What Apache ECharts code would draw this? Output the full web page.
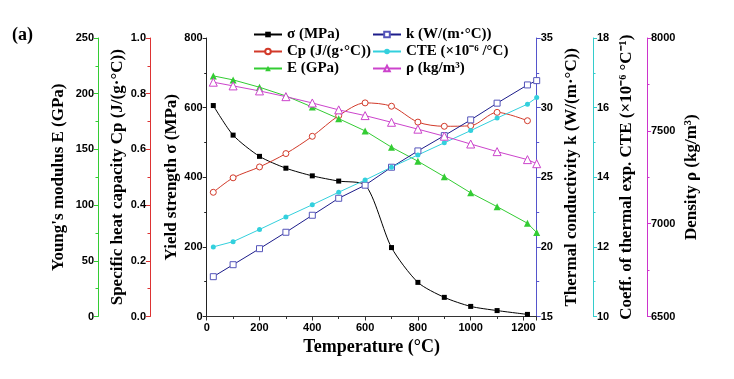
<!DOCTYPE html>
<html>
<head>
<meta charset="utf-8">
<script src="https://cdn.jsdelivr.net/npm/echarts@6/dist/echarts.min.js"></script>
<style>
html,body{margin:0;padding:0;background:#fff;}
#c{width:734px;height:379px;}
</style>
</head>
<body>
<div id="c"></div>
<script>
// Temperatures (°C)
var temps = [25, 100, 200, 300, 400, 500, 600, 700, 800, 900, 1000, 1100, 1215, 1250];
// Yield strength σ (MPa) - 13 points
var sigma = [606, 521, 460, 426, 404, 389, 378, 198, 98, 55, 29, 17, 6];
// Specific heat Cp (J/(g·°C)) - 13 points
var cp = [0.446, 0.498, 0.537, 0.585, 0.647, 0.721, 0.767, 0.755, 0.698, 0.683, 0.685, 0.733, 0.703];
// Young's modulus E (GPa)
var youngE = [216, 212.4, 205.8, 198, 188, 177.6, 166.6, 152, 139.4, 125.5, 111, 98.6, 83.7, 75.3];
// Thermal conductivity k (W/(m·°C))
var kCond = [17.86, 18.72, 19.87, 21.05, 22.27, 23.49, 24.43, 25.72, 26.89, 27.99, 29.12, 30.32, 31.63, 31.94];
// CTE (×10^-6 /°C)
var cte = [12.0, 12.15, 12.5, 12.86, 13.21, 13.57, 13.92, 14.29, 14.64, 14.99, 15.34, 15.70, 16.10, 16.29];
// Density ρ (kg/m³)
var rho = [7762, 7742, 7715, 7684, 7650, 7613, 7582, 7546, 7509, 7471, 7429, 7388, 7345, 7323];

var xTicks = {min: 0, max: 1250, interval: 200};

function pairs(vals) {
  return vals.map(function (v, i) { return [temps[i], v]; });
}

var serif = '"Liberation Serif", "Times New Roman", serif';
var sans = '"Liberation Sans", Arial, sans-serif';

function yAx(o) {
  return {
    type: 'value',
    position: o.pos,
    offset: o.offset,
    min: o.min, max: o.max, interval: o.interval,
    name: o.name,
    nameLocation: 'middle',
    nameRotate: 90,
    nameGap: o.gap,
    nameTextStyle: {fontFamily: serif, fontWeight: 'bold', fontSize: 17, color: '#000'},
    axisLine: {show: true, lineStyle: {color: o.color, width: 1}},
    axisTick: {show: true, inside: false, length: 4, lineStyle: {color: o.color}},
    minorTick: {show: true, splitNumber: 2, length: 2.5, lineStyle: {color: o.color}},
    axisLabel: {fontFamily: sans, fontWeight: 'bold', fontSize: 11, color: '#000', margin: 4,
      formatter: o.fmt || function (v) { return String(v); }},
    splitLine: {show: false}
  };
}

var chart = echarts.init(document.getElementById('c'), null, {renderer: 'canvas'});

var legendText = {fontFamily: serif, fontWeight: 'bold', fontSize: 15, color: '#000'};

var option = {
  backgroundColor: '#fff',
  animation: false,
  graphic: [{
    type: 'text', left: 12, top: 26,
    style: {text: '(a)', font: 'bold 18px ' + serif, fill: '#000'}
  }],
  legend: [{
    orient: 'vertical', left: 248, top: 22, itemWidth: 28, itemHeight: 7, itemGap: 2,
    textStyle: legendText,
    data: ['σ (MPa)', 'Cp (J/(g·°C))', 'E (GPa)']
  }, {
    orient: 'vertical', left: 367, top: 22, itemWidth: 28, itemHeight: 7, itemGap: 2,
    textStyle: legendText,
    data: ['k (W/(m·°C))', 'CTE (×10⁻⁶ /°C)', 'ρ (kg/m³)']
  }],
  grid: {left: 206.7, right: 197.3, top: 38, bottom: 62.5, containLabel: false},
  xAxis: {
    type: 'value', min: xTicks.min, max: xTicks.max, interval: xTicks.interval,
    name: 'Temperature (°C)', nameLocation: 'middle', nameGap: 21,
    nameTextStyle: {fontFamily: serif, fontWeight: 'bold', fontSize: 18, color: '#000'},
    axisLine: {show: true, onZero: false, lineStyle: {color: '#333', width: 1}},
    axisTick: {show: true, inside: false, length: 4, lineStyle: {color: '#333'}},
    minorTick: {show: true, splitNumber: 2, length: 2.5, lineStyle: {color: '#333'}},
    axisLabel: {fontFamily: sans, fontWeight: 'bold', fontSize: 11, color: '#000', margin: 6,
      showMaxLabel: false, formatter: function (v) { return String(v); }},
    splitLine: {show: false}
  },
  yAxis: [
    yAx({pos: 'left', offset: 0, min: 0, max: 800, interval: 200, color: '#222',
      name: 'Yield strength σ (MPa)', gap: 27}),
    yAx({pos: 'left', offset: 108.7, min: 0, max: 250, interval: 50, color: '#33cc33',
      name: "Young's modulus E (GPa)", gap: 31}),
    yAx({pos: 'left', offset: 56.7, min: 0, max: 1, interval: 0.2, color: '#dd3333',
      name: 'Specific heat capacity Cp (J/(g·°C))', gap: 24,
      fmt: function (v) { return v.toFixed(1); }}),
    yAx({pos: 'right', offset: 0, min: 15, max: 35, interval: 5, color: '#5555cc',
      name: 'Thermal conductivity k (W/(m·°C))', gap: 26}),
    yAx({pos: 'right', offset: 56.3, min: 10, max: 18, interval: 2, color: '#33cccc',
      name: 'Coeff. of thermal exp. CTE (×10⁻⁶ °C⁻¹)', gap: 25}),
    yAx({pos: 'right', offset: 110.3, min: 6500, max: 8000, interval: 500, color: '#cc33cc',
      name: 'Density ρ (kg/m³)', gap: 36})
  ],
  series: [
    {name: 'σ (MPa)', type: 'line', yAxisIndex: 0, data: pairs(sigma), smooth: 0.25,
      symbol: 'rect', symbolSize: 5, color: '#000', lineStyle: {width: 1, color: '#000'},
      itemStyle: {color: '#000', borderWidth: 0}},
    {name: 'Cp (J/(g·°C))', type: 'line', yAxisIndex: 2, data: pairs(cp), smooth: 0.3,
      symbol: 'circle', symbolSize: 6, color: '#d23a2a', lineStyle: {width: 1, color: '#d23a2a'},
      itemStyle: {color: '#fff', borderColor: '#d23a2a', borderWidth: 1}},
    {name: 'E (GPa)', type: 'line', yAxisIndex: 1, data: pairs(youngE),
      symbol: 'triangle', symbolSize: 7, color: '#33cc33', lineStyle: {width: 1, color: '#33cc33'},
      itemStyle: {color: '#33cc33', borderWidth: 0}},
    {name: 'k (W/(m·°C))', type: 'line', yAxisIndex: 3, data: pairs(kCond),
      symbol: 'rect', symbolSize: 6, color: '#1c1c8a', lineStyle: {width: 1, color: '#1c1c8a'},
      itemStyle: {color: '#fff', borderColor: '#5555bb', borderWidth: 1}},
    {name: 'CTE (×10⁻⁶ /°C)', type: 'line', yAxisIndex: 4, data: pairs(cte),
      symbol: 'circle', symbolSize: 5, color: '#33d0dd', lineStyle: {width: 1, color: '#33d0dd'},
      itemStyle: {color: '#33d0dd', borderWidth: 0}},
    {name: 'ρ (kg/m³)', type: 'line', yAxisIndex: 5, data: pairs(rho),
      symbol: 'triangle', symbolSize: 8, color: '#cc44cc', lineStyle: {width: 1, color: '#cc44cc'},
      itemStyle: {color: '#fff', borderColor: '#cc44cc', borderWidth: 1}}
  ]
};
chart.setOption(option);
</script>
</body>
</html>
